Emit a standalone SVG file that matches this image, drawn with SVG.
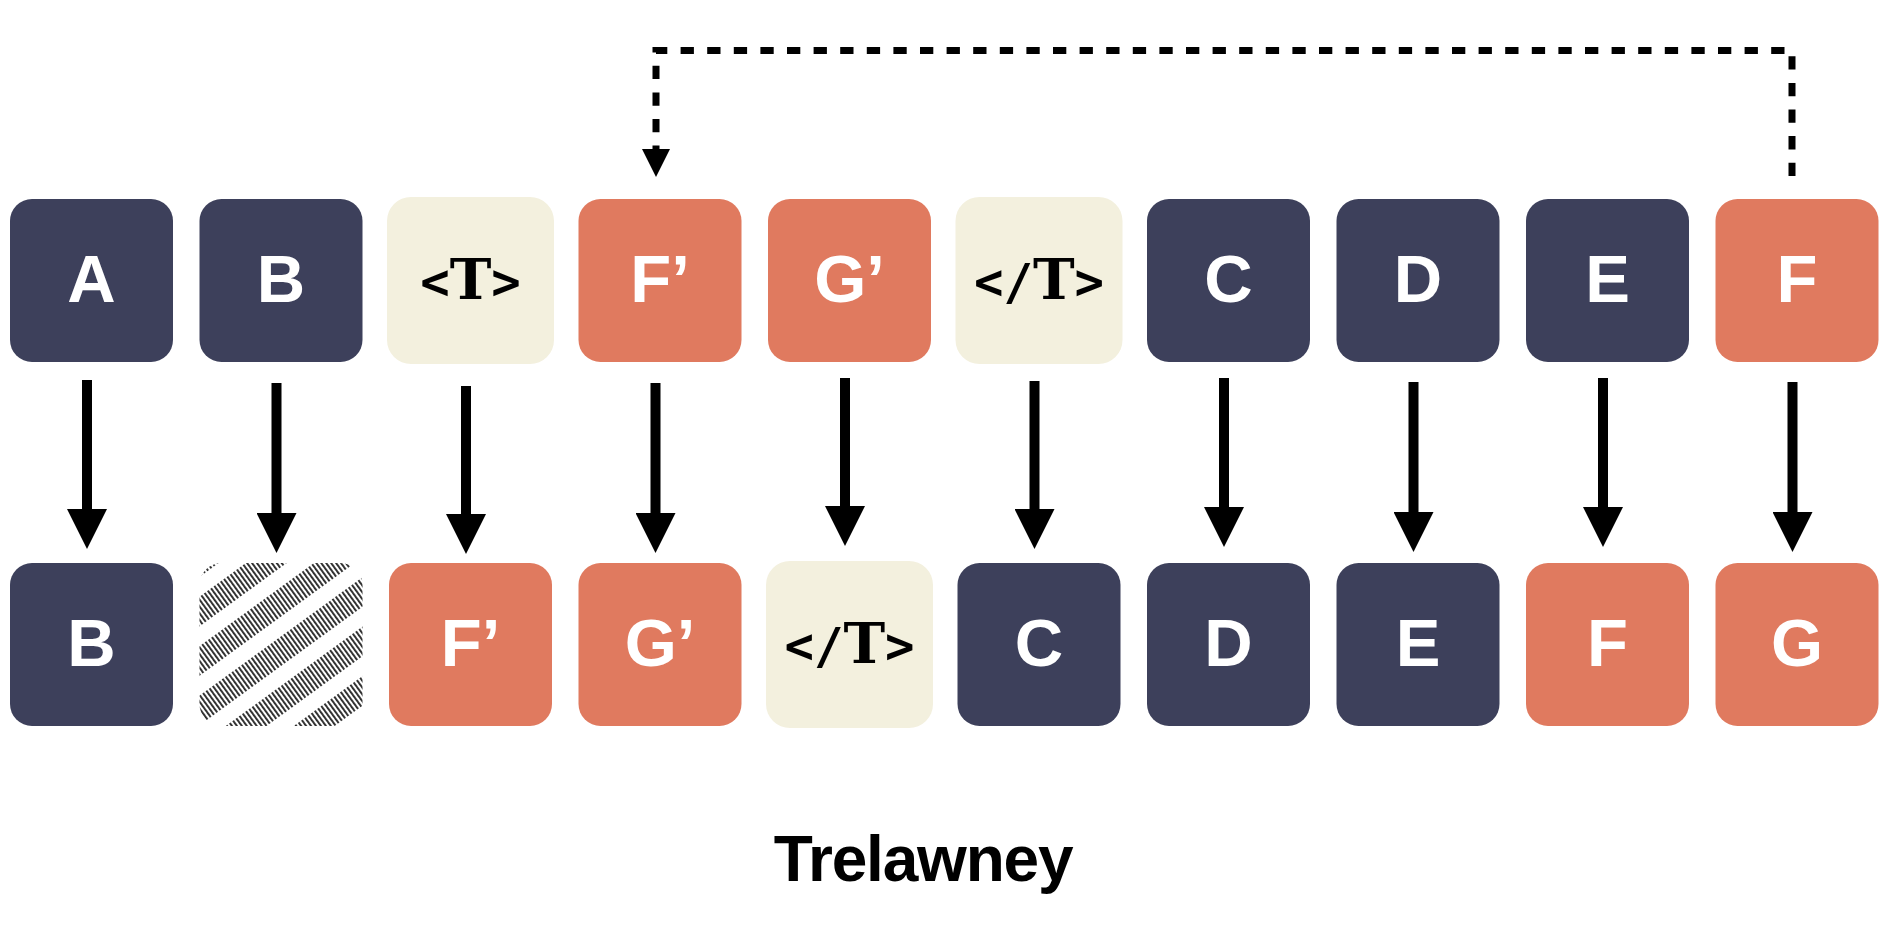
<svg xmlns="http://www.w3.org/2000/svg" width="1896" height="926" viewBox="0 0 1896 926">
<style>
.navy{fill:#3D405B}
.coral{fill:#E07A5F}
.tan{fill:#F3F0DE}
.lbl{font-family:"Liberation Sans",Arial,sans-serif;font-weight:700;font-size:67px;fill:#FFFFFF;text-anchor:middle}
.tag{font-family:"DejaVu Sans Mono",monospace;font-weight:700;font-size:49px;fill:#000;text-anchor:middle}
.tagT{font-family:"DejaVu Serif",serif;font-weight:700;font-size:56px}
.arrow{stroke:#000;stroke-width:10;fill:none;marker-end:url(#head)}
.dash{stroke:#000;stroke-width:7;fill:none;stroke-dasharray:13.3 13.3}
.title{font-family:"Liberation Sans",Arial,sans-serif;font-weight:700;font-size:64px;letter-spacing:-1.2px;fill:#000;text-anchor:middle}
</style>
<defs>
<marker id="head" markerUnits="userSpaceOnUse" markerWidth="40" markerHeight="40" viewBox="0 0 40 40" refX="1" refY="20" orient="auto">
<path d="M0,0 L40,20 L0,40 Z" fill="#000"/>
</marker>
<pattern id="hatch" patternUnits="userSpaceOnUse" width="4" height="40" patternTransform="rotate(-36)">
<rect x="0" y="0" width="1.9" height="24" fill="#2A2A2A"/>
</pattern>
</defs>
<rect width="1896" height="926" fill="#FFFFFF"/>

<!-- top row -->
<g id="top-A"><rect class="navy" x="10" y="199" width="163" height="163" rx="22"/><text class="lbl" x="91.5" y="302">A</text></g>
<g id="top-B"><rect class="navy" x="199.5" y="199" width="163" height="163" rx="22"/><text class="lbl" x="281" y="302">B</text></g>
<g id="top-T-open"><rect class="tan" x="387" y="197" width="167" height="167" rx="24"/><text class="tag" x="470.5" y="299">&lt;<tspan class="tagT">T</tspan>&gt;</text></g>
<g id="top-F-prime"><rect class="coral" x="578.5" y="199" width="163" height="163" rx="22"/><text class="lbl" x="660" y="302">F’</text></g>
<g id="top-G-prime"><rect class="coral" x="768" y="199" width="163" height="163" rx="22"/><text class="lbl" x="849.5" y="302">G’</text></g>
<g id="top-T-close"><rect class="tan" x="955.5" y="197" width="167" height="167" rx="24"/><text class="tag" x="1039" y="299">&lt;/<tspan class="tagT">T</tspan>&gt;</text></g>
<g id="top-C"><rect class="navy" x="1147" y="199" width="163" height="163" rx="22"/><text class="lbl" x="1228.5" y="302">C</text></g>
<g id="top-D"><rect class="navy" x="1336.5" y="199" width="163" height="163" rx="22"/><text class="lbl" x="1418" y="302">D</text></g>
<g id="top-E"><rect class="navy" x="1526" y="199" width="163" height="163" rx="22"/><text class="lbl" x="1607.5" y="302">E</text></g>
<g id="top-F"><rect class="coral" x="1715.5" y="199" width="163" height="163" rx="22"/><text class="lbl" x="1797" y="302">F</text></g>

<!-- bottom row -->
<g id="bot-B"><rect class="navy" x="10" y="563" width="163" height="163" rx="22"/><text class="lbl" x="91.5" y="666">B</text></g>
<g id="bot-empty"><rect fill="url(#hatch)" x="199.5" y="563" width="163" height="163" rx="22"/></g>
<g id="bot-F-prime"><rect class="coral" x="389" y="563" width="163" height="163" rx="22"/><text class="lbl" x="470.5" y="666">F’</text></g>
<g id="bot-G-prime"><rect class="coral" x="578.5" y="563" width="163" height="163" rx="22"/><text class="lbl" x="660" y="666">G’</text></g>
<g id="bot-T-close"><rect class="tan" x="766" y="561" width="167" height="167" rx="24"/><text class="tag" x="849.5" y="663">&lt;/<tspan class="tagT">T</tspan>&gt;</text></g>
<g id="bot-C"><rect class="navy" x="957.5" y="563" width="163" height="163" rx="22"/><text class="lbl" x="1039" y="666">C</text></g>
<g id="bot-D"><rect class="navy" x="1147" y="563" width="163" height="163" rx="22"/><text class="lbl" x="1228.5" y="666">D</text></g>
<g id="bot-E"><rect class="navy" x="1336.5" y="563" width="163" height="163" rx="22"/><text class="lbl" x="1418" y="666">E</text></g>
<g id="bot-F"><rect class="coral" x="1526" y="563" width="163" height="163" rx="22"/><text class="lbl" x="1607.5" y="666">F</text></g>
<g id="bot-G"><rect class="coral" x="1715.5" y="563" width="163" height="163" rx="22"/><text class="lbl" x="1797" y="666">G</text></g>

<!-- connectors -->
<g id="connectors">
<path class="arrow" d="M87,380 V510"/>
<path class="arrow" d="M276.5,383 V514"/>
<path class="arrow" d="M466,386 V515"/>
<path class="arrow" d="M655.5,383 V514"/>
<path class="arrow" d="M845,378 V507"/>
<path class="arrow" d="M1034.5,381 V510"/>
<path class="arrow" d="M1224,378 V508"/>
<path class="arrow" d="M1413.5,382 V513"/>
<path class="arrow" d="M1603,378 V508"/>
<path class="arrow" d="M1792.5,382 V513"/>
<path class="dash" d="M1792,176 V50.5 H656 V149"/>
<path d="M642,149 L670,149 L656,177 Z" fill="#000"/>
</g>

<text class="title" x="923" y="881">Trelawney</text>
</svg>
